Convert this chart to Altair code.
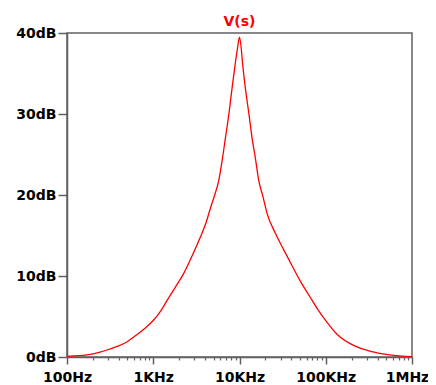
import altair as alt
import pandas as pd

freq_hz = [100, 170, 242, 316, 379, 494, 590, 771, 1000, 1206, 1440, 1800, 2250, 2800,
           3520, 4100, 4610, 5160, 5750, 6300, 6900, 7600, 8200, 9000, 9500, 10000, 10500,
           10800, 11700, 12900, 14000, 15300, 16700, 18700, 20900, 26000, 32700, 41000, 51100,
           65000, 80000, 100000, 137000, 213000, 332000, 520000, 750000, 1000000]
mag_db = [0.08, 0.25, 0.6, 1.0, 1.3, 1.85, 2.45, 3.4, 4.5, 5.6, 6.95, 8.6, 10.3, 12.4,
          14.8, 16.6, 18.4, 20.0, 21.8, 24.3, 27.2, 30.3, 33.2, 36.5, 38.2, 39.5, 38.0,
          36.5, 33.2, 29.9, 27.0, 24.5, 21.8, 19.8, 17.7, 15.3, 13.2, 11.2, 9.3,
          7.5, 5.95, 4.5, 2.75, 1.4, 0.7, 0.3, 0.12, 0.05]

major_ticks = [100, 1000, 10000, 100000, 1000000]
major_labels = ["100Hz", "1KHz", "10KHz", "100KHz", "1MHz"]
minor_ticks = [m * 10 ** e for e in range(2, 6) for m in range(2, 10)]
y_ticks = [0, 10, 20, 30, 40]
series_name = "V(s)"

df = pd.DataFrame({"f": freq_hz, "db": mag_db})
minor_df = pd.DataFrame({"f": minor_ticks})

label_expr = ""
bounds = [300, 3000, 30000, 300000]
for b, lab in zip(bounds, major_labels[:-1]):
    label_expr += f"datum.value < {b} ? '{lab}' : "
label_expr += f"'{major_labels[-1]}'"

axis_color = "#606060"
font = "DejaVu Sans"

x_scale = alt.Scale(type="log", domain=[100, 1000000], nice=False)
y_scale = alt.Scale(domain=[0, 40], nice=False)

common_axis = dict(
    domainColor=axis_color, tickColor=axis_color, domainWidth=1.5, tickWidth=1.5,
    labelFont=font, labelFontWeight="bold", labelFontSize=14, labelColor="#000000",
    grid=False, title=None,
)

line = alt.Chart(df).mark_line(color="#ff0000", strokeWidth=1.3, interpolate="monotone").encode(
    x=alt.X("f:Q", scale=x_scale,
            axis=alt.Axis(orient="bottom", values=major_ticks, labelExpr=label_expr, tickSize=7,
                          labelPadding=6, labelFlush=False, labelOverlap=False,
                          labelOffset={"condition": {"test": "datum.value > 500000", "value": -5},
                                       "value": 0},
                          **common_axis)),
    y=alt.Y("db:Q", scale=y_scale,
            axis=alt.Axis(values=y_ticks, labelExpr="datum.value + 'dB'", tickSize=9,
                          labelPadding=2, **common_axis)),
)

minor = alt.Chart(minor_df).mark_point(opacity=0).encode(
    x=alt.X("f:Q", scale=x_scale,
            axis=alt.Axis(orient="bottom", values=minor_ticks, labels=False, tickSize=3,
                          domain=False, tickColor=axis_color, tickWidth=1.2, grid=False,
                          title=None)),
)

chart = (
    alt.layer(minor, line)
    .resolve_axis(x="independent")
    .properties(
        width=345, height=324,
        title=alt.TitleParams(series_name, color="#ff0000", fontSize=14, fontWeight="bold",
                              font=font, offset=-3, anchor="middle"),
        autosize=alt.AutoSizeParams(type="none"),
        padding={"left": 59, "top": 25, "right": 16, "bottom": 28},
        background="#ffffff",
    )
    .configure_view(stroke=axis_color, strokeWidth=1.5)
)

chart.save("out.html", embed_options={"renderer": "svg", "actions": False})
